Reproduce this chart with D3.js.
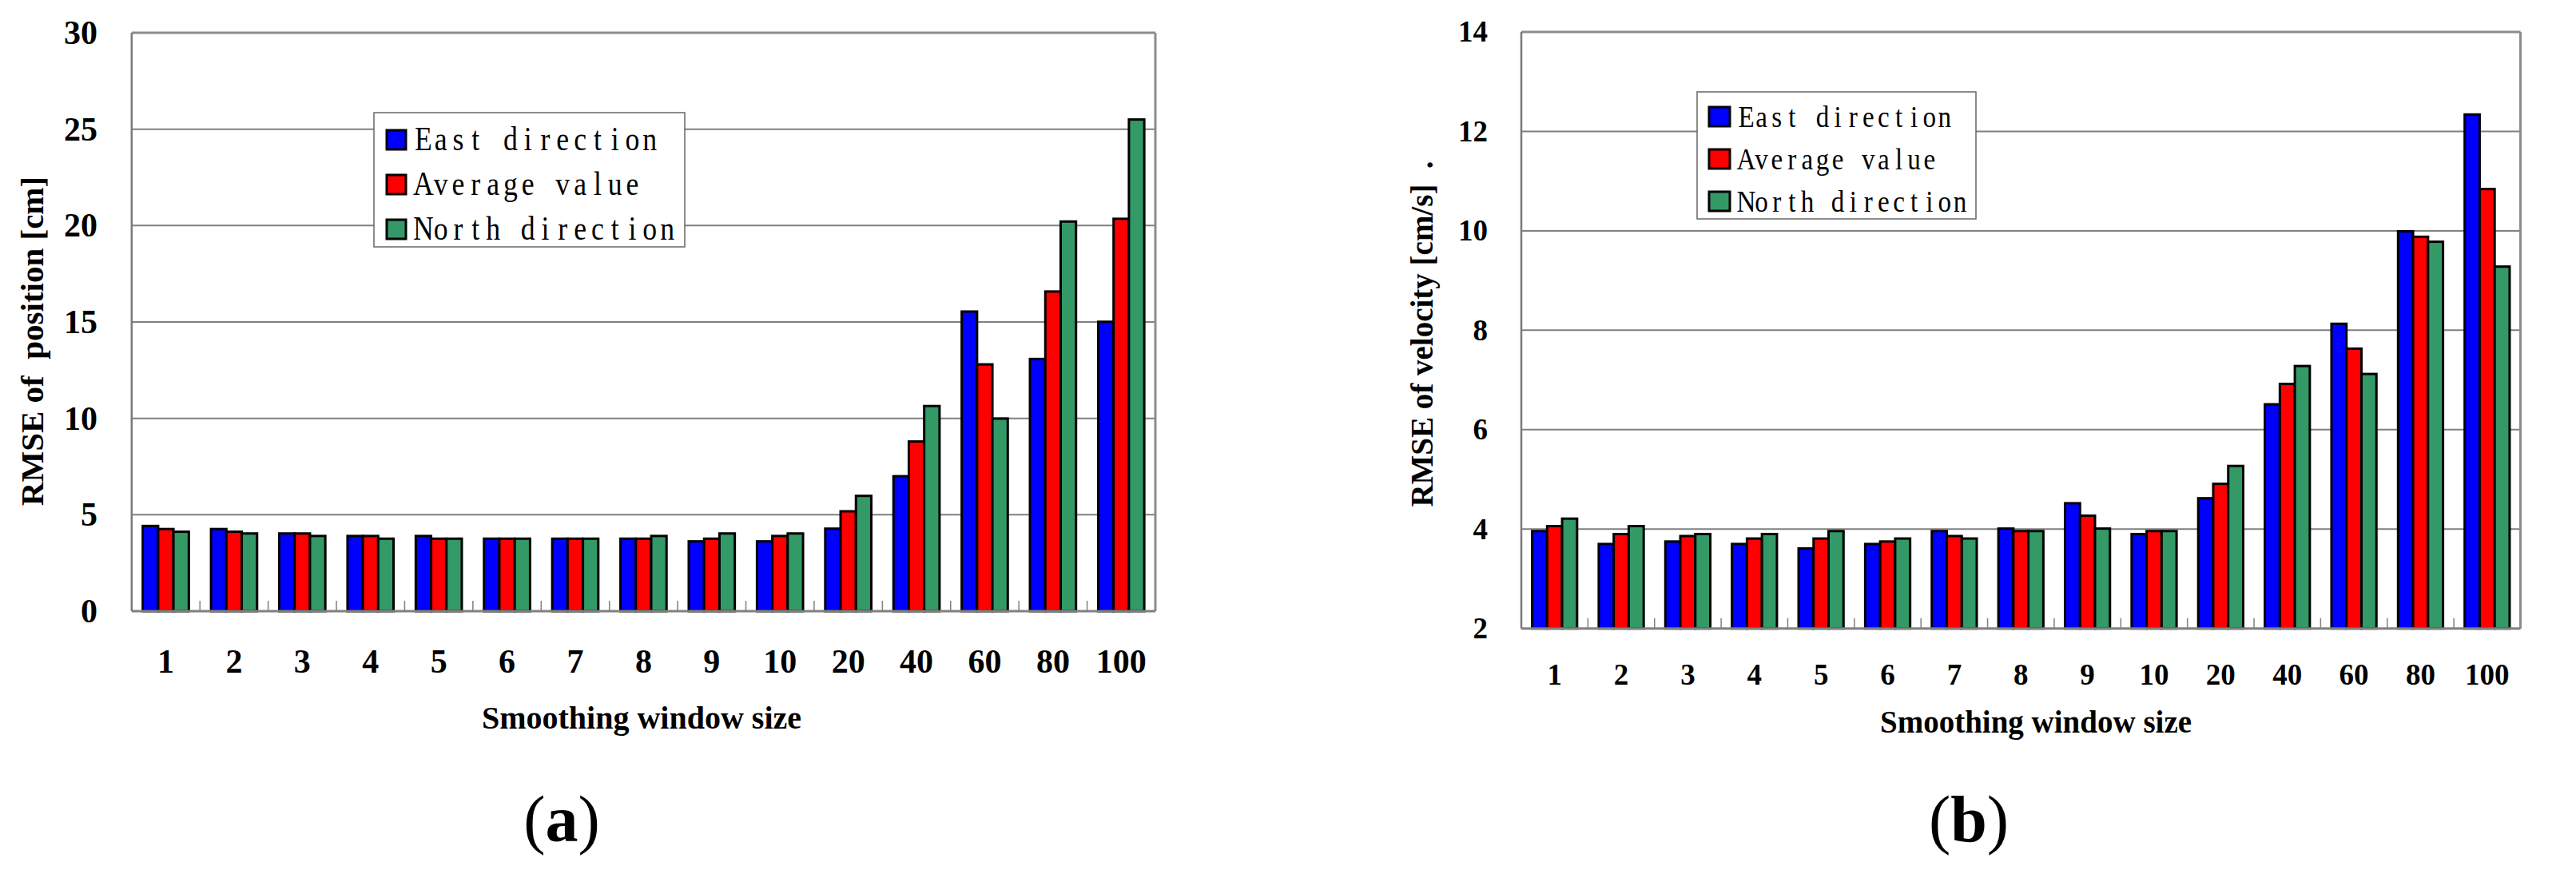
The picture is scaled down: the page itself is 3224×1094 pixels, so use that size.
<!DOCTYPE html>
<html>
<head>
<meta charset="utf-8">
<script src="https://cdn.jsdelivr.net/npm/d3@7"></script>
<style>
  html, body { margin: 0; padding: 0; background: #fff; }
  svg { display: block; }
</style>
</head>
<body>
<svg id="chart" width="3224" height="1094"></svg>
<script>
// ---------- DATA ----------
const categories = ["1","2","3","4","5","6","7","8","9","10","20","40","60","80","100"];
const seriesNames = ["East direction", "Average value", "North direction"];
const seriesColors = ["#0000FF", "#FF0000", "#339966"];

const posEast  = [4.42, 4.26, 4.03, 3.90, 3.90, 3.76, 3.76, 3.76, 3.62, 3.62, 4.28, 7.00, 15.54, 13.08, 15.01];
const posAvg   = [4.26, 4.12, 4.03, 3.90, 3.76, 3.76, 3.76, 3.76, 3.76, 3.90, 5.18, 8.80, 12.80, 16.58, 20.35];
const posNorth = [4.12, 4.03, 3.90, 3.76, 3.76, 3.76, 3.76, 3.90, 4.03, 4.03, 5.98, 10.64, 9.99, 20.21, 25.50];
const posTicks = [0, 5, 10, 15, 20, 25, 30];

const velEast  = [3.96, 3.70, 3.75, 3.70, 3.61, 3.70, 3.96, 4.01, 4.52, 3.90, 4.62, 6.51, 8.13, 9.99, 12.34];
const velAvg   = [4.06, 3.90, 3.86, 3.81, 3.81, 3.75, 3.86, 3.96, 4.27, 3.96, 4.91, 6.92, 7.63, 9.88, 10.84];
const velNorth = [4.21, 4.06, 3.90, 3.90, 3.96, 3.81, 3.81, 3.96, 4.01, 3.96, 5.27, 7.28, 7.12, 9.78, 9.28];
const velTicks = [2, 4, 6, 8, 10, 12, 14];

const xTitle = "Smoothing window size";
const yTitlePos = "RMSE of  position [cm]";
const yTitleVel = "RMSE of velocity [cm/s]  .";

// ---------- DRAW ----------
const svg = d3.select("#chart");
const SERIF = "'Liberation Serif', 'Times New Roman', serif";

function drawPanel(p) {
  const g = svg.append("g");
  const x0 = d3.scaleBand().domain(categories).range([p.left, p.right])
    .paddingInner(0.325).paddingOuter(0.1625);
  const x1 = d3.scaleBand().domain(seriesNames).range([0, x0.bandwidth()]);
  const y = d3.scaleLinear().domain(p.domain).range([p.bottom, p.top]);
  const step = x0.step();

  // gridlines
  g.append("g").selectAll("line").data(p.ticks.slice(1, -1)).join("line")
    .attr("x1", p.left).attr("x2", p.right)
    .attr("y1", d => y(d)).attr("y2", d => y(d))
    .attr("stroke", "#7f7f7f").attr("stroke-width", 2);

  // frame: top and right
  g.append("line").attr("x1", p.left).attr("x2", p.right).attr("y1", p.top).attr("y2", p.top)
    .attr("stroke", "#8c8c8c").attr("stroke-width", 3);
  g.append("line").attr("x1", p.right).attr("x2", p.right).attr("y1", p.top).attr("y2", p.bottom)
    .attr("stroke", "#8c8c8c").attr("stroke-width", 3);

  // legend
  const lg = g.append("g");
  lg.append("rect").attr("x", p.leg.x).attr("y", p.leg.y).attr("width", p.leg.w).attr("height", p.leg.h)
    .attr("fill", "#fff").attr("stroke", "#666").attr("stroke-width", 1.5);
  const sc = 0.85;
  seriesNames.forEach((name, i) => {
    const cy = p.leg.rowY[i];
    lg.append("rect").attr("x", p.leg.sx).attr("y", cy - p.leg.sh)
      .attr("width", p.leg.sw).attr("height", p.leg.sh)
      .attr("fill", seriesColors[i]).attr("stroke", "#000").attr("stroke-width", 3);
    const t = lg.append("text").attr("transform", `translate(${p.leg.tx},${cy + 1}) scale(${sc},1)`)
      .attr("font-family", SERIF).attr("font-size", p.leg.fs).attr("fill", "#000")
      .attr("text-anchor", "middle");
    t.selectAll("tspan").data(name.split("")).join("tspan")
      .attr("x", (c, k) => (k + 0.5) * p.leg.cw / sc).attr("y", 0)
      .text(c => c === " " ? "\u00a0" : c);
  });

  // bars
  const groups = g.append("g").selectAll("g").data(categories).join("g")
    .attr("transform", d => `translate(${x0(d)},0)`);
  groups.selectAll("rect").data((d, ci) => seriesNames.map((s, si) => ({ s, si, v: p.series[si][ci] })))
    .join("rect")
    .attr("x", d => x1(d.s)).attr("width", x1.bandwidth())
    .attr("y", d => y(d.v)).attr("height", d => y(p.domain[0]) - y(d.v))
    .attr("fill", d => seriesColors[d.si]).attr("stroke", "#000").attr("stroke-width", 3);

  // bottom axis line & category ticks
  g.append("line").attr("x1", p.left).attr("x2", p.right).attr("y1", p.bottom).attr("y2", p.bottom)
    .attr("stroke", "#808080").attr("stroke-width", 3);
  g.append("g").selectAll("line").data(categories.slice(1)).join("line")
    .attr("x1", d => x0(d) - step * 0.1625).attr("x2", d => x0(d) - step * 0.1625)
    .attr("y1", p.bottom).attr("y2", p.bottom - 13)
    .attr("stroke", "#808080").attr("stroke-width", 1.5);
  // left axis line
  g.append("line").attr("x1", p.left).attr("x2", p.left).attr("y1", p.top).attr("y2", p.bottom)
    .attr("stroke", "#7a7a7a").attr("stroke-width", 2.5);

  // y axis labels
  const yAxis = d3.axisLeft(y).tickValues(p.ticks).tickSize(0).tickPadding(p.left - p.yLabelRight);
  const ya = g.append("g").attr("transform", `translate(${p.left},0)`).call(yAxis);
  ya.select(".domain").remove();
  ya.selectAll("text").attr("font-family", SERIF).attr("font-weight", "bold")
    .attr("font-size", p.tickFs).attr("fill", "#000");

  // x axis labels
  const xAxis = d3.axisBottom(x0).tickSize(0).tickPadding(0);
  const xa = g.append("g").attr("transform", `translate(0,${p.xLabelBase})`).call(xAxis);
  xa.select(".domain").remove();
  xa.selectAll("text").attr("dy", 0).attr("y", 0)
    .attr("font-family", SERIF).attr("font-weight", "bold")
    .attr("font-size", p.tickFs).attr("fill", "#000");

  // x title
  g.append("text").attr("x", p.xTitleX).attr("y", p.xTitleBase).attr("text-anchor", "middle")
    .attr("font-family", SERIF).attr("font-weight", "bold").attr("font-size", p.titleFs)
    .attr("fill", "#000").text(xTitle);

  // y title
  g.append("text").attr("transform", `translate(${p.yTitleBaseX},${p.yTitleY}) rotate(-90)`)
    .attr("text-anchor", "middle")
    .attr("font-family", SERIF).attr("font-weight", "bold").attr("font-size", p.yTitleFs)
    .attr("fill", "#000").style("white-space", "pre").text(p.yTitle);

  // panel label
  const pl = g.append("text").attr("x", p.labelX).attr("y", 1053).attr("text-anchor", "middle")
    .attr("font-family", SERIF).attr("font-size", 82).attr("fill", "#000");
  pl.append("tspan").text("(");
  pl.append("tspan").attr("font-weight", "bold").text(p.label);
  pl.append("tspan").text(")");
}

drawPanel({
  left: 164.8, right: 1446, top: 41, bottom: 765, domain: [0, 30], ticks: posTicks,
  series: [posEast, posAvg, posNorth],
  yLabelRight: 122, tickFs: 42, xLabelBase: 842,
  xTitleX: 803, xTitleBase: 912, titleFs: 40,
  yTitle: yTitlePos, yTitleBaseX: 54, yTitleY: 427, yTitleFs: 41,
  label: "a", labelX: 703,
  leg: { x: 468, y: 141, w: 389, h: 168, rowY: [187, 243, 299], sx: 484, sw: 24, sh: 24,
         tx: 519, fs: 42, cw: 21.8 }
});

drawPanel({
  left: 1904, right: 3154.5, top: 40, bottom: 786.7, domain: [2, 14], ticks: velTicks,
  series: [velEast, velAvg, velNorth],
  yLabelRight: 1862, tickFs: 37, xLabelBase: 857,
  xTitleX: 2548, xTitleBase: 917, titleFs: 39,
  yTitle: yTitleVel, yTitleBaseX: 1793, yTitleY: 418, yTitleFs: 39,
  label: "b", labelX: 2464,
  leg: { x: 2124, y: 115, w: 349, h: 159, rowY: [158, 211, 264], sx: 2139, sw: 26, sh: 24,
         tx: 2176, fs: 39, cw: 19.1 }
});
</script>
</body>
</html>
